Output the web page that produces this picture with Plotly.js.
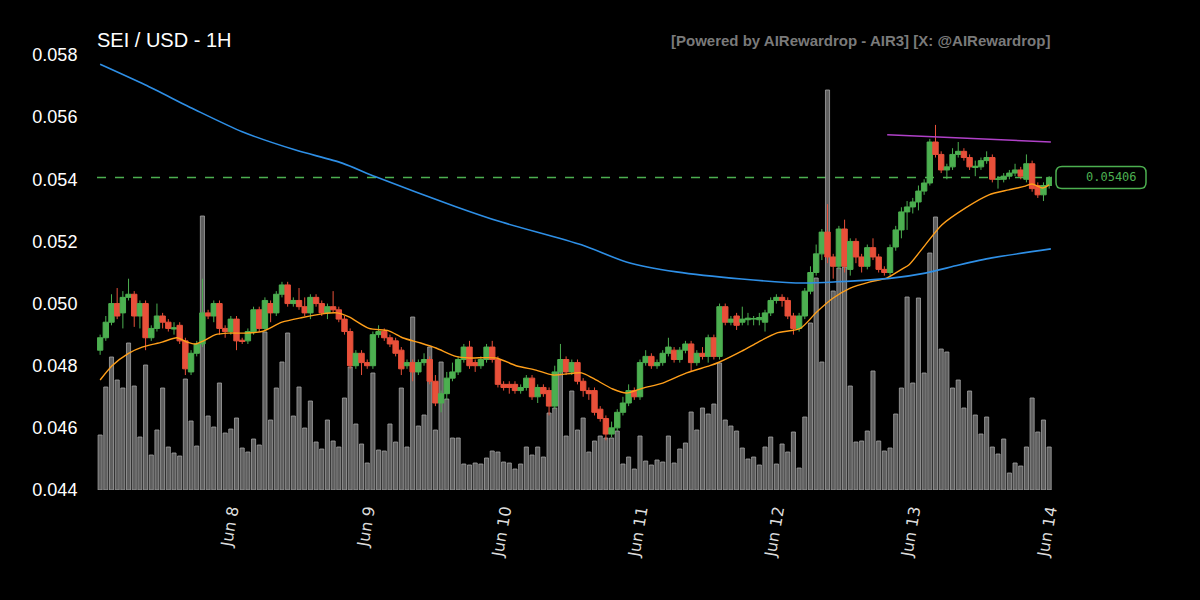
<!DOCTYPE html>
<html>
<head>
<meta charset="utf-8">
<script src="https://cdn.plot.ly/plotly-3.0.1.min.js"></script>
<style>html,body{margin:0;padding:0;background:#000;}#chart{width:1200px;height:600px;}</style>
</head>
<body>
<div id="chart"></div>
<script>
// ---- DATA (hourly candles, Jun 7 01:00 -> Jun 14 00:00) ----
const startTime = Date.UTC(2025, 5, 7, 1, 0, 0);
const candleCount = 168;

const openP = [
.0485,.0489,.0494,.0500,.0497,.0502,.0503,.0496,.0500,.0489,
.0492,.0496,.0494,.04918,.0493,.0488,.0478,.0484,.0487,.0497,
.0496,.0500,.0492,.0491,.0495,.04882,.0488,.0491,.0498,.0492,
.0500,.0497,.0503,.0506,.0500,.0501,.0499,.0497,.0502,.0500,
.0497,.0499,.0498,.0495,.0491,.0480,.0484,.0481,.0480,.0490,
.0491,.0489,.0488,.0485,.0480,.0481,.0478,.0481,.0482,.0475,
.0468,.0471,.0476,.0478,.0482,.0486,.0481,.0480,.0482,.0486,
.0482,.0474,.0474,.0474,.0472,.0473,.0476,.0470,.0473,.0472,
.0467,.0478,.0482,.0478,.0481,.0475,.0472,.0472,.0466,.0463,
.0458,.0460,.0465,.0468,.0472,.0470,.0481,.0483,.0480,.0481,
.0484,.0485,.0482,.0485,.0487,.0481,.0484,.0483,.0489,.0483,
.0499,.0494,.0496,.0494,.04948,.04950,.04948,.0494,.0497,.0501,
.0502,.0501,.0496,.0492,.0496,.0504,.0510,.0516,.0523,.0515,
.0512,.0524,.0511,.0520,.0515,.0512,.0518,.0515,.0511,.0510,
.05182,.05237,.05295,.05311,.05327,.05362,.05388,.0552,.0548,.0543,
.0544,.0548,.0549,.0547,.05438,.0544,.0546,.0547,.05400,.0540,
.0541,.0542,.0543,.0540,.0545,.0538,.0535,.0538
];
const highP = [
.0490,.0496,.0503,.0505,.0504,.0508,.0504,.0501,.0501,.0493,
.0500,.0497,.0495,.0494,.0494,.0489,.0485,.0488,.0508,.0498,
.0501,.0501,.0493,.0496,.0496,.0489,.0492,.0499,.0499,.0502,
.0501,.0504,.0507,.0507,.0502,.0505,.0502,.0503,.0503,.0501,
.0500,.0504,.0499,.0496,.0492,.0485,.0485,.0482,.0491,.0493,
.0492,.0490,.0489,.0486,.0482,.0482,.0482,.0484,.0483,.0477,
.0472,.0478,.0481,.0483,.0487,.0488,.0482,.0483,.0487,.0488,
.0483,.0475,.0475,.0475,.0474,.0477,.0477,.0474,.0474,.0473,
.0480,.0487,.0483,.0482,.0482,.0476,.0473,.0473,.0467,.0464,
.0462,.0466,.0470,.0474,.0473,.0482,.0485,.0484,.0482,.0485,
.0489,.0486,.0486,.0488,.0488,.0485,.0486,.0490,.0490,.0500,
.0500,.0496,.0497,.0499,.0497,.0496,.0497,.0498,.0502,.0503,
.0503,.0502,.0497,.0497,.0505,.0512,.0519,.0524,.0532,.0516,
.0525,.0527,.0521,.0521,.0516,.0519,.0521,.0516,.0512,.0519,
.0525,.0531,.0533,.0534,.0538,.0540,.0553,.05575,.0549,.0545,
.0550,.0552,.0550,.0548,.0546,.0547,.0549,.0548,.0541,.0542,
.0543,.0545,.0544,.0548,.0546,.0539,.0539,.0541
];
const lowP = [
.04835,.0488,.0493,.0495,.0492,.0501,.04925,.0492,.0485,.0488,
.0491,.0492,.0491,.0490,.0487,.0477,.0477,.0483,.0486,.0495,
.0494,.0490,.0489,.0490,.0485,.0487,.0487,.0490,.0491,.0491,
.0494,.0496,.0502,.0499,.0499,.0498,.0496,.0495,.0499,.0496,
.0495,.0497,.0494,.0490,.0479,.0479,.0477,.0479,.0479,.0489,
.0488,.0486,.0483,.0477,.0479,.0475,.0477,.0480,.0474,.0467,
.0465,.0469,.0475,.0477,.0481,.0479,.0478,.0479,.0481,.0481,
.0473,.0472,.0471,.0471,.0471,.0472,.0469,.0468,.0470,.0464,
.0466,.0477,.0477,.0477,.0474,.0470,.0469,.0464,.0462,.0456,
.0457,.0459,.0464,.0467,.0469,.0469,.0480,.0479,.0479,.0480,
.0483,.0481,.0481,.0484,.0478,.0480,.0482,.0481,.0482,.0482,
.0493,.0493,.04915,.0493,.0493,.0493,.0493,.0491,.0496,.0500,
.0499,.0495,.0490,.0491,.0495,.0503,.0509,.0514,.0513,.0508,
.0511,.0510,.0509,.0513,.0510,.0511,.0514,.0510,.0509,.0509,
.0517,.0521,.05237,.0529,.0530,.0535,.0538,.0547,.0542,.0540,
.0543,.0547,.0546,.0543,.0541,.0543,.0545,.0539,.0537,.0539,
.0540,.0541,.0540,.0539,.0536,.0534,.0533,.0537
];
const closeP = [
.0489,.0494,.0500,.0496,.0502,.0503,.0496,.0500,.0489,.0492,
.0496,.0494,.0492,.04922,.0488,.0479,.0484,.0487,.0497,.0496,
.0500,.0492,.0491,.0495,.0488,.04878,.0491,.0498,.0492,.0501,
.0497,.0503,.0506,.0500,.0501,.0499,.0497,.0502,.0500,.0497,
.0499,.0498,.0495,.0491,.0480,.0484,.0481,.0480,.0490,.0491,
.0489,.0487,.0484,.0479,.0481,.0478,.0481,.0482,.0475,.0468,
.0471,.0476,.0478,.0482,.0486,.0480,.0480,.0482,.0486,.0482,
.0474,.0473,.0473,.0472,.0473,.0476,.0470,.0473,.0471,.0467,
.0478,.0482,.0478,.0481,.0475,.0472,.0471,.0465,.0463,.0458,
.0460,.0465,.0468,.0472,.0470,.0481,.0483,.0480,.0481,.0484,
.0486,.0482,.0485,.0487,.0481,.0484,.0483,.0489,.0483,.0499,
.0494,.0495,.0493,.0495,.04953,.04952,.04955,.0497,.0501,.0502,
.0501,.0496,.0492,.0496,.0504,.0510,.0516,.0523,.0515,.0512,
.0524,.0512,.0520,.0515,.0512,.0518,.0515,.0511,.0510,.0518,
.05237,.05295,.05311,.05327,.05362,.05388,.0552,.0548,.0543,.0544,
.0548,.0549,.0547,.0544,.05442,.0546,.0547,.0540,.05401,.0541,
.0542,.0543,.0541,.0545,.0537,.0535,.0538,.05406
];
// volume (millions)
const volume = [
.55,1.03,1.33,1.10,1.02,1.47,1.04,.53,1.25,.35,
.60,1.02,.43,.37,.34,1.11,.69,.44,2.74,.74,
.63,1.07,.57,.61,.72,.42,.38,.51,.45,1.58,
.70,1.02,1.28,1.57,.74,1.03,.62,.89,.48,.41,
.70,.49,.43,.92,1.23,.66,.46,.27,1.17,.40,
.39,.66,.48,1.02,.43,1.73,.64,.75,1.43,.60,
1.28,.91,.52,.52,.26,.25,.27,.26,.32,.39,
.38,.28,.27,.21,.26,.43,.35,.43,.33,.77,
.82,1.28,.54,.99,.60,.72,.38,.49,.54,.52,
.52,.59,.26,.33,.21,.54,.29,.25,.30,.28,
.54,.27,.41,.47,.78,.60,.82,.76,.86,1.27,
.70,.64,.59,.42,.31,.33,.25,.43,.53,.26,
.46,.38,.58,.22,.73,1.67,2.12,1.28,4.00,1.99,
2.22,2.23,1.04,.48,.49,.59,1.19,.49,.39,.42,
.76,1.02,1.93,1.07,1.92,1.17,2.37,2.73,1.41,1.38,
1.02,1.10,.82,.99,.75,.56,.73,.43,.36,.51,
.17,.27,.24,.43,.92,.58,.70,.43
];
// short moving average (orange) read at candle positions
const fastMaIdx = [1,3.1,6,8.4,11.9,14.5,16.3,17.8,19.2,21.3,23.6,26.6,29.5,33,36.6,40.1,42.7,44.8,48.3,51.8,54.2,57.4,60.1,63.6,66,70.7,74.2,77.7,80.7,85.7,87.7,91.2,93.6,96.5,100,104.2,108.3,110,113.9,116.5,120,124.2,127.1,130,133,136.5,139.4,142.1,143.3,146.2,149.1,153.3,157.4,160.9,163.8,165,166.8,168];
const fastMaVal = [.04754,.0480,.0484,.0486,.04876,.0489,.04876,.0487,.0488,.0490,.04905,.04905,.0491,.0494,.04955,.04967,.0497,.04957,.0492,.04912,.0489,.04873,.04857,.0483,.04825,.04825,.0480,.04786,.0477,.04777,.0476,.04725,.04712,.04728,.04744,.04777,.0480,.04812,.04847,.04873,.04905,.0492,.04973,.05018,.0505,.0507,.05082,.05111,.05124,.05189,.05253,.05308,.0535,.05366,.05378,.05385,.05372,.05382];
// long moving average (blue)
const slowMaIdx = [1,8.9,17.8,26,35.4,43.6,49.5,63.6,71.5,85.7,93.6,102.4,113.9,124.8,130.6,140.3,146.2,152.1,157.9,168.3];
const slowMaVal = [.05770,.05704,.05623,.05553,.05494,.05452,.05408,.05312,.05263,.05189,.05134,.05102,.05079,.05066,.0507,.05082,.05098,.05124,.05147,.05176];
// resistance line (purple)
const resIdx = [139.5, 168.3];
const resVal = [.05543, .0552];
const lastPrice = 0.05406;
const priceTicks = [0.044,0.046,0.048,0.050,0.052,0.054,0.056,0.058];
const priceRange = [0.044, 0.058];
const titleText = 'SEI / USD - 1H';
const creditText = '[Powered by AIRewardrop - AIR3] [X: @AIRewardrop]';

// ---- helpers ----
function tAt(idx){
  const d = new Date(startTime + (idx - 1) * 3600000);
  return d.toISOString().slice(0,19).replace('T',' ');
}
const times = [];
for (let i = 1; i <= candleCount; i++) times.push(tAt(i));

const GREEN = '#4caf50', RED = '#e8503a';

const traces = [
  {type:'bar', x:times, y:volume, xaxis:'x', yaxis:'y', width:0.72*3600000,
   marker:{color:'rgba(105,105,105,0.9)', line:{color:'rgba(165,165,165,0.8)', width:1}}, hoverinfo:'skip'},
  {type:'candlestick', x:times, open:openP, high:highP, low:lowP, close:closeP, xaxis:'x', yaxis:'y2',
   increasing:{line:{color:GREEN, width:1}, fillcolor:GREEN},
   decreasing:{line:{color:RED, width:1}, fillcolor:RED}, whiskerwidth:0, hoverinfo:'skip'},
  {type:'scatter', mode:'lines', x:fastMaIdx.map(tAt), y:fastMaVal, xaxis:'x', yaxis:'y2',
   line:{color:'#ff9f1a', width:1.4, shape:'spline', smoothing:0.7}, hoverinfo:'skip'},
  {type:'scatter', mode:'lines', x:slowMaIdx.map(tAt), y:slowMaVal, xaxis:'x', yaxis:'y2',
   line:{color:'#2e8fe6', width:1.6, shape:'spline', smoothing:0.7}, hoverinfo:'skip'},
  {type:'scatter', mode:'lines', x:resIdx.map(tAt), y:resVal, xaxis:'x', yaxis:'y2',
   line:{color:'#b041c8', width:1.5}, hoverinfo:'skip'}
];

const labelFrac = (lastPrice - priceRange[0]) / (priceRange[1] - priceRange[0]);

const layout = {
  width:1200, height:600,
  paper_bgcolor:'#000', plot_bgcolor:'#000',
  showlegend:false,
  boxgap:0.05, boxgroupgap:0,
  margin:{l:97, r:148, t:55, b:110},
  title:{text:titleText, font:{family:'Liberation Sans, Arial, sans-serif', size:20, color:'#ffffff'},
         xref:'paper', x:0, xanchor:'left', yref:'container', y:1-40/600, yanchor:'middle'},
  xaxis:{type:'date', range:[tAt(0.45), tAt(168.5)], showgrid:false, zeroline:false, showline:false,
         rangeslider:{visible:false}, dtick:86400000, tick0:'2025-06-08 00:00',
         tickformat:'%b %-d', tickangle:-80,
         tickfont:{family:'DejaVu Sans, sans-serif', size:16, color:'#dddddd'},
         ticks:'outside', ticklen:4, tickcolor:'rgba(0,0,0,0)'},
  yaxis:{range:[0, 4.35], visible:false, showgrid:false, zeroline:false, fixedrange:true},
  yaxis2:{overlaying:'y', side:'left', range:priceRange, tickvals:priceTicks, tickformat:'.3f',
          showgrid:false, zeroline:false, showline:false,
          tickfont:{family:'Liberation Sans, Arial, sans-serif', size:18, color:'#ffffff'},
          ticks:'outside', ticklen:15, tickcolor:'rgba(0,0,0,0)'},
  shapes:[
    {type:'line', xref:'paper', x0:0, x1:1, yref:'y2', y0:lastPrice, y1:lastPrice,
     line:{color:GREEN, width:1.5, dash:'dash'}, layer:'below'},
    {type:'path', xref:'paper', xsizemode:'pixel', xanchor:1, yref:'paper', ysizemode:'pixel', yanchor:labelFrac,
     path:'M 10,-11 L 88,-11 Q 94,-11 94,-5 L 94,5 Q 94,11 88,11 L 10,11 Q 4,11 4,5 L 4,-5 Q 4,-11 10,-11 Z',
     line:{color:GREEN, width:1.5}, fillcolor:'#000'}
  ],
  annotations:[
    {xref:'paper', x:1, xanchor:'right', yref:'paper', y:1, yanchor:'middle', yshift:15, showarrow:false,
     text:'<b>'+creditText+'</b>', font:{family:'Liberation Sans, Arial, sans-serif', size:15, color:'#7a7a7a'}},
    {xref:'paper', x:1, xanchor:'right', xshift:87, yref:'paper', y:labelFrac, yanchor:'middle', showarrow:false,
     text:lastPrice.toFixed(5), font:{family:'DejaVu Sans Mono, monospace', size:12, color:GREEN}}
  ]
};

Plotly.newPlot('chart', traces, layout, {displayModeBar:false, staticPlot:true});
</script>
</body>
</html>
